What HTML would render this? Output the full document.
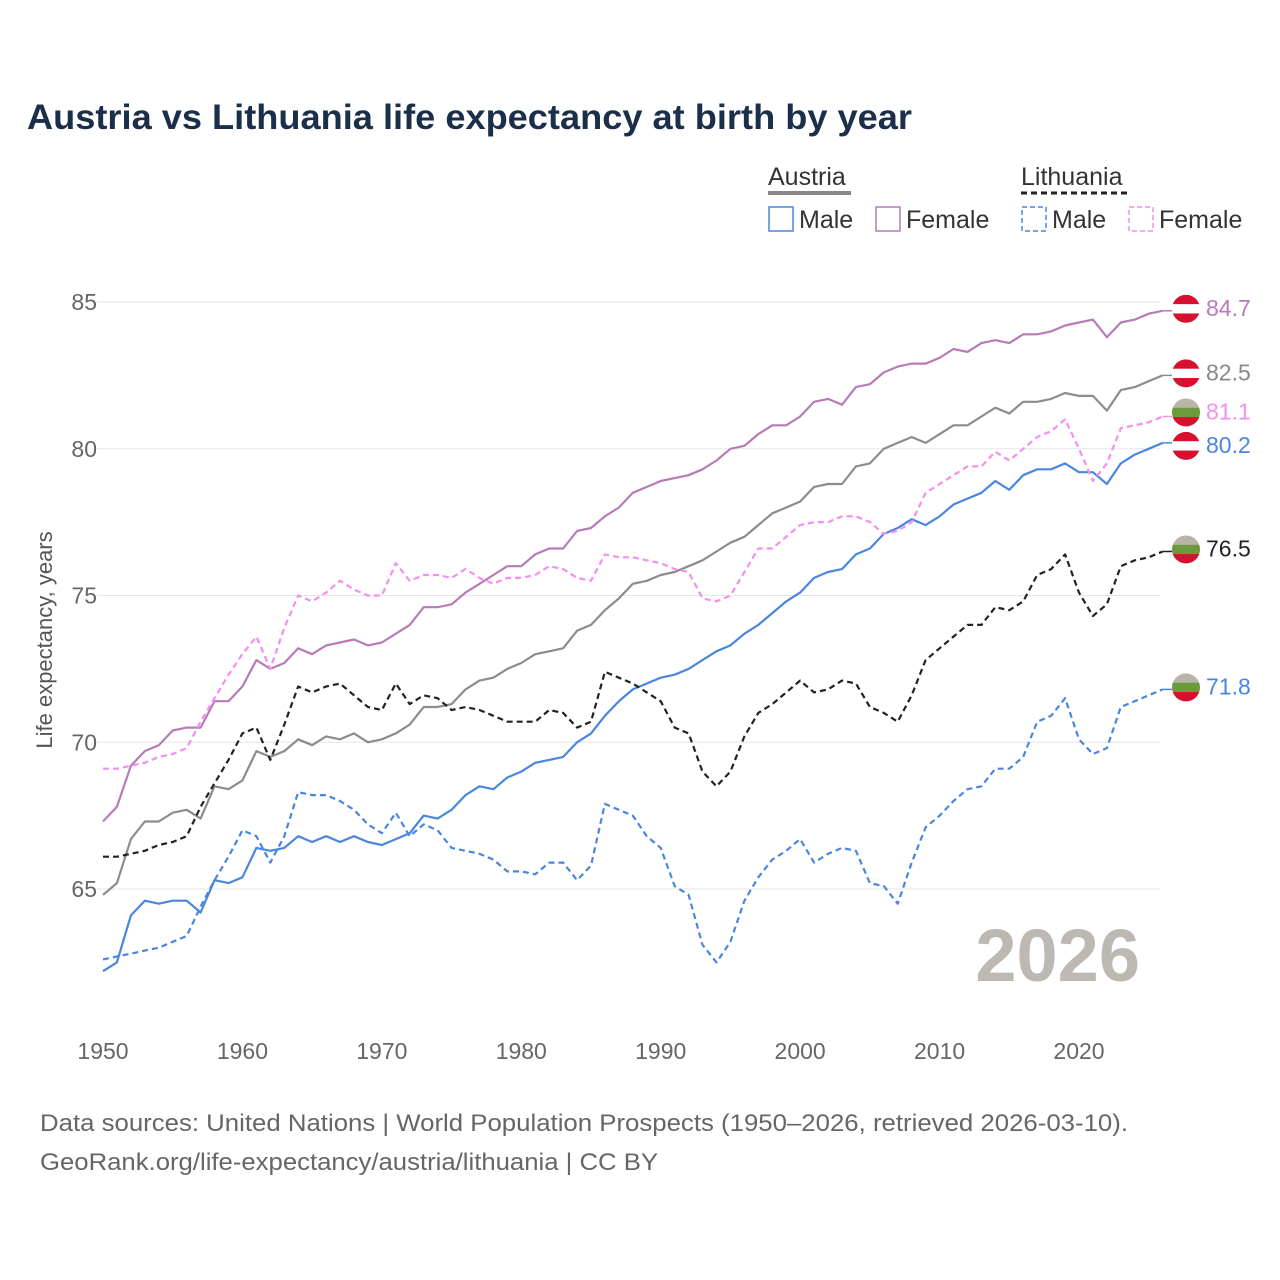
<!DOCTYPE html>
<html><head><meta charset="utf-8"><style>
body{margin:0;background:#fff;font-family:"Liberation Sans",sans-serif}
svg{display:block}
</style></head><body>
<svg id="chart" width="1280" height="1280" viewBox="0 0 1280 1280" xmlns="http://www.w3.org/2000/svg">
<rect width="1280" height="1280" fill="#fff"/>
<text x="27" y="129" font-size="35" font-weight="bold" fill="#1b2f4b" textLength="885" lengthAdjust="spacingAndGlyphs">Austria vs Lithuania life expectancy at birth by year</text>
<g id="legend" font-size="25" fill="#333">
<text x="768" y="185">Austria</text>
<line x1="768" y1="193" x2="851" y2="193" stroke="#888" stroke-width="4"/>
<text x="1021" y="185">Lithuania</text>
<line x1="1021" y1="193" x2="1127" y2="193" stroke="#222" stroke-width="3" stroke-dasharray="6,4"/>
<g><rect x="769" y="207" width="24" height="24" fill="none" stroke="#4a86e0" stroke-width="1.5"/><text x="799" y="228">Male</text></g>
<g><rect x="876" y="207" width="24" height="24" fill="none" stroke="#b77bb8" stroke-width="1.5"/><text x="906" y="228">Female</text></g>
<g><rect x="1022" y="207" width="24" height="24" fill="none" stroke="#4a86e0" stroke-width="1.5" stroke-dasharray="5,3"/><text x="1052" y="228">Male</text></g>
<g><rect x="1129" y="207" width="24" height="24" fill="none" stroke="#f48ef0" stroke-width="1.5" stroke-dasharray="5,3"/><text x="1159" y="228">Female</text></g>
</g>
<g id="grid"></g>
<g id="series"></g>
<g id="ends"></g>
<text x="1140" y="981" text-anchor="end" font-size="74" font-weight="bold" fill="#bdb8b1">2026</text>
<text x="52" y="640" transform="rotate(-90 52 640)" text-anchor="middle" font-size="22" fill="#555">Life expectancy, years</text>
<text x="40" y="1131" font-size="24" fill="#666" textLength="1088" lengthAdjust="spacingAndGlyphs">Data sources: United Nations | World Population Prospects (1950–2026, retrieved 2026-03-10).</text>
<text x="40" y="1170" font-size="24" fill="#666" textLength="618" lengthAdjust="spacingAndGlyphs">GeoRank.org/life-expectancy/austria/lithuania | CC BY</text>
</svg>
<script>
const years=[];for(let y=1950;y<=2026;y++)years.push(y);
const yTicks=[65,70,75,80,85];
const xTicks=[1950,1960,1970,1980,1990,2000,2010,2020];
const atFemale=[67.3,67.8,69.2,69.7,69.9,70.4,70.5,70.5,71.4,71.4,71.9,72.8,72.5,72.7,73.2,73.0,73.3,73.4,73.5,73.3,73.4,73.7,74.0,74.6,74.6,74.7,75.1,75.4,75.7,76.0,76.0,76.4,76.6,76.6,77.2,77.3,77.7,78.0,78.5,78.7,78.9,79.0,79.1,79.3,79.6,80.0,80.1,80.5,80.8,80.8,81.1,81.6,81.7,81.5,82.1,82.2,82.6,82.8,82.9,82.9,83.1,83.4,83.3,83.6,83.7,83.6,83.9,83.9,84.0,84.2,84.3,84.4,83.8,84.3,84.4,84.6,84.7];
const atTotal=[64.8,65.2,66.7,67.3,67.3,67.6,67.7,67.4,68.5,68.4,68.7,69.7,69.5,69.7,70.1,69.9,70.2,70.1,70.3,70.0,70.1,70.3,70.6,71.2,71.2,71.3,71.8,72.1,72.2,72.5,72.7,73.0,73.1,73.2,73.8,74.0,74.5,74.9,75.4,75.5,75.7,75.8,76.0,76.2,76.5,76.8,77.0,77.4,77.8,78.0,78.2,78.7,78.8,78.8,79.4,79.5,80.0,80.2,80.4,80.2,80.5,80.8,80.8,81.1,81.4,81.2,81.6,81.6,81.7,81.9,81.8,81.8,81.3,82.0,82.1,82.3,82.5];
const atMale=[62.2,62.5,64.1,64.6,64.5,64.6,64.6,64.2,65.3,65.2,65.4,66.4,66.3,66.4,66.8,66.6,66.8,66.6,66.8,66.6,66.5,66.7,66.9,67.5,67.4,67.7,68.2,68.5,68.4,68.8,69.0,69.3,69.4,69.5,70.0,70.3,70.9,71.4,71.8,72.0,72.2,72.3,72.5,72.8,73.1,73.3,73.7,74.0,74.4,74.8,75.1,75.6,75.8,75.9,76.4,76.6,77.1,77.3,77.6,77.4,77.7,78.1,78.3,78.5,78.9,78.6,79.1,79.3,79.3,79.5,79.2,79.2,78.8,79.5,79.8,80.0,80.2];
const ltFemale=[69.1,69.1,69.2,69.3,69.5,69.6,69.8,70.7,71.5,72.3,73.0,73.6,72.5,73.9,75.0,74.8,75.1,75.5,75.2,75.0,75.0,76.1,75.5,75.7,75.7,75.6,75.9,75.6,75.4,75.6,75.6,75.7,76.0,75.9,75.6,75.5,76.4,76.3,76.3,76.2,76.1,75.9,75.8,74.9,74.8,75.0,75.8,76.6,76.6,77.0,77.4,77.5,77.5,77.7,77.7,77.5,77.1,77.2,77.5,78.5,78.8,79.1,79.4,79.4,79.9,79.6,80.0,80.4,80.6,81.0,80.0,78.9,79.5,80.7,80.8,80.9,81.1];
const ltTotal=[66.1,66.1,66.2,66.3,66.5,66.6,66.8,67.8,68.6,69.4,70.3,70.5,69.4,70.6,71.9,71.7,71.9,72.0,71.6,71.2,71.1,72.0,71.3,71.6,71.5,71.1,71.2,71.1,70.9,70.7,70.7,70.7,71.1,71.0,70.5,70.7,72.4,72.2,72.0,71.7,71.4,70.5,70.3,69.0,68.5,69.0,70.2,71.0,71.3,71.7,72.1,71.7,71.8,72.1,72.0,71.2,71.0,70.7,71.6,72.8,73.2,73.6,74.0,74.0,74.6,74.5,74.8,75.7,75.9,76.4,75.1,74.3,74.7,76.0,76.2,76.3,76.5];
const ltMale=[62.6,62.7,62.8,62.9,63.0,63.2,63.4,64.4,65.3,66.1,67.0,66.8,65.9,66.8,68.3,68.2,68.2,68.0,67.7,67.2,66.9,67.6,66.8,67.2,67.0,66.4,66.3,66.2,66.0,65.6,65.6,65.5,65.9,65.9,65.3,65.8,67.9,67.7,67.5,66.8,66.4,65.1,64.8,63.1,62.5,63.2,64.6,65.4,66.0,66.3,66.7,65.9,66.2,66.4,66.3,65.2,65.1,64.5,65.9,67.1,67.5,68.0,68.4,68.5,69.1,69.1,69.5,70.7,70.9,71.5,70.1,69.6,69.8,71.2,71.4,71.6,71.8];
const NS="http://www.w3.org/2000/svg";
const xs=y=>103+(y-1950)*(976/70);
const ys=v=>302+(85-v)*29.35;
function mk(t,a,p){const e=document.createElementNS(NS,t);for(const k in a)e.setAttribute(k,a[k]);p.appendChild(e);return e;}
const grid=document.getElementById('grid');
yTicks.forEach(v=>{
 const l=mk('line',{x1:97,x2:1160,y1:ys(v),y2:ys(v),stroke:'#e6e6e6','stroke-width':1},grid);
 
 
 const t=mk('text',{x:97,y:ys(v)+8,'text-anchor':'end','font-size':23,fill:'#666'},grid);t.textContent=v;
 
 
});
xTicks.forEach(y=>{
 const t=mk('text',{x:xs(y),y:1059,'text-anchor':'middle','font-size':23,fill:'#666'},grid);t.textContent=y;
 
 
});
const defs=[
 {d:atFemale,c:'#b77bb8',dash:null,n:'austria-female',flag:'at',lc:'#b77bb8',off:-2},
 {d:atTotal,c:'#8c8c8c',dash:null,n:'austria-total',flag:'at',lc:'#888',off:-2},
 {d:atMale,c:'#4a86e0',dash:null,n:'austria-male',flag:'at',lc:'#4a86e0',off:3},
 {d:ltFemale,c:'#f48ef0',dash:'6,4',n:'lithuania-female',flag:'lt',lc:'#f48ef0',off:-4},
 {d:ltTotal,c:'#222',dash:'6,4',n:'lithuania-total',flag:'lt',lc:'#222',off:-2},
 {d:ltMale,c:'#4a86e0',dash:'6,4',n:'lithuania-male',flag:'lt',lc:'#4a86e0',off:-2}];
const sg=document.getElementById('series'),eg=document.getElementById('ends');
defs.forEach(s=>{
 const pts=s.d.map((v,i)=>xs(years[i]).toFixed(1)+','+ys(v).toFixed(1)).join(' ');
 const a={points:pts,fill:'none',stroke:s.c,'stroke-width':2.2,'stroke-linejoin':'round'};
 if(s.dash)a['stroke-dasharray']=s.dash;
 const p=mk('polyline',a,sg);
 
 
 const last=s.d[s.d.length-1],ly=ys(last),cy=ly+s.off,cx=1186;
 const g=mk('g',{},eg);
 
 
 mk('line',{x1:xs(2026),x2:cx-14,y1:ly,y2:ly,stroke:s.c,'stroke-width':1.5},g);
 const id='clip-'+s.n;
 const cp=mk('clipPath',{id:id},g);mk('circle',{cx:cx,cy:cy,r:14},cp);
 const cols=s.flag==='at'?['#d8102f','#fff','#d8102f']:['#b9b4a8','#6a9a3a','#d8102f'];
 cols.forEach((c,i)=>mk('rect',{x:cx-14,y:cy-14+i*28/3,width:28,height:28/3+0.5,fill:c,'clip-path':'url(#'+id+')'},g));
 const t=mk('text',{x:1206,y:cy+7,'font-size':23,fill:s.lc},g);t.textContent=last.toFixed(1);
});
</script>
</body></html>
